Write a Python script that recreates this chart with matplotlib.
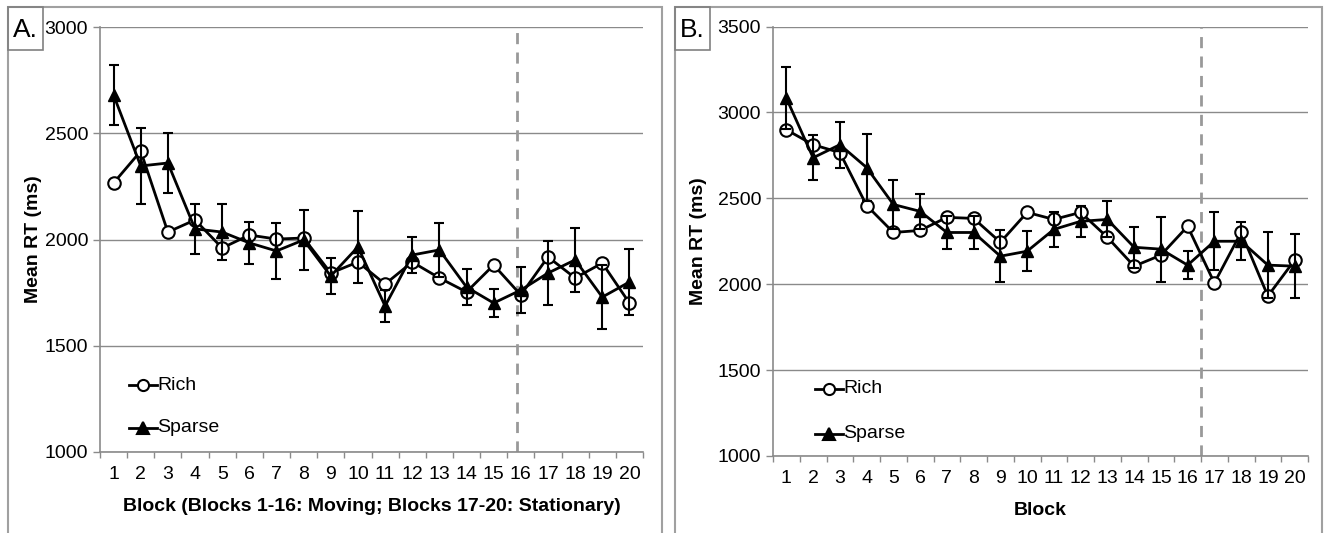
import numpy as np
import matplotlib
matplotlib.use("Agg")
import matplotlib.pyplot as plt
from matplotlib.patches import Rectangle

plt.rcParams['font.family'] = ['Liberation Sans', 'DejaVu Sans']

W, H = 1325, 533

blocks = list(range(1, 21))

# Panel A (blocks 1-16 moving, 17-20 stationary)
rich_a = [2266, 2416, 2035, 2092, 1960, 2021, 2002, 2007, 1842, 1894,
          1790, 1894, 1819, 1753, 1880, 1739, 1918, 1819, 1889, 1701]
sparse_a = [2680, 2346, 2360, 2050, 2035, 1984, 1946, 1998, 1828, 1965,
            1687, 1927, 1951, 1776, 1701, 1762, 1842, 1904, 1729, 1800]
sparse_a_err = [140, 180, 140, 118, 130, 100, 130, 140, 85, 170,
                75, 85, 127, 85, 66, 110, 150, 150, 150, 155]

# Panel B
rich_b = [2899, 2812, 2766, 2458, 2301, 2313, 2389, 2383, 2244, 2418,
          2377, 2418, 2273, 2105, 2169, 2337, 2007, 2302, 1931, 2140]
sparse_b = [3083, 2736, 2812, 2679, 2464, 2424, 2301, 2301, 2163, 2192,
            2319, 2366, 2377, 2215, 2204, 2111, 2250, 2250, 2111, 2105]
sparse_b_err = [180, 130, 134, 197, 140, 100, 95, 95, 150, 115,
                100, 90, 105, 120, 190, 80, 170, 110, 190, 185]

GRAY = "#8a8a8a"


def px(x0, y0, x1, y1):
    # pixel box (top-left origin) -> figure rect
    return [x0 / W, 1 - y1 / H, (x1 - x0) / W, (y1 - y0) / H]


def draw_panel(ax, rich, sparse, err, ylim, ystep, xlabel, dash_x, leg_x, leg_y,
               ylab_pad):
    ax.plot(blocks, rich, "-o", color="black", lw=2, ms=9,
            mfc="white", mec="black", mew=1.5, zorder=3)
    ax.errorbar(blocks, sparse, yerr=err, fmt="-^", color="black", lw=2,
                ms=9, elinewidth=1.5, capsize=3.5, capthick=1.5, zorder=4)
    ax.axvline(dash_x, color="#999999", ls=(0, (4, 3)), lw=2, zorder=2)

    ax.set_xlim(0.5, 20.5)
    ax.set_ylim(*ylim)
    ax.set_yticks(np.arange(ylim[0], ylim[1] + 1, ystep))
    ax.set_xticks(blocks)
    ax.set_xticks(np.arange(0.5, 21, 1), minor=True)
    ax.tick_params(axis="x", which="major", length=0, labelsize=14, pad=10)
    ax.tick_params(axis="x", which="minor", length=4, color=GRAY, width=1)
    ax.tick_params(axis="y", length=5, color=GRAY, width=1, labelsize=14)
    ax.grid(axis="y", color=GRAY, lw=1)
    ax.set_axisbelow(True)
    for s in ("top", "right"):
        ax.spines[s].set_visible(False)
    for s in ("left", "bottom"):
        ax.spines[s].set_color(GRAY)
        ax.spines[s].set_linewidth(1.2)
    ax.set_ylabel("Mean RT (ms)", fontsize=14, fontweight="bold", labelpad=ylab_pad)
    ax.set_xlabel(xlabel, fontsize=14, fontweight="bold", labelpad=11)

    # legend drawn as small line+marker samples
    for lab, mk, face, y in (("Rich", "o", "white", leg_y[0]),
                             ("Sparse", "^", "black", leg_y[1])):
        ax.plot([leg_x, leg_x + 1.03], [y, y], color="black", lw=2, zorder=5)
        ax.plot([leg_x + 0.52], [y], marker=mk, ms=8, mfc=face,
                mec="black", mew=1.5, zorder=6)
        ax.text(leg_x + 1.05, y, lab, fontsize=14, va="center", ha="left")


fig = plt.figure(figsize=(W / 100, H / 100), dpi=100)

# panel frames
fig.patches.append(Rectangle((8 / W, -0.02), 654 / W, 1 - 7 / H + 0.02,
                             transform=fig.transFigure, fill=False,
                             ec="#a0a0a0", lw=1.5))
fig.patches.append(Rectangle((675 / W, -0.02), 647 / W, 1 - 7 / H + 0.02,
                             transform=fig.transFigure, fill=False,
                             ec="#a0a0a0", lw=1.5))
for x0, lab in ((8, "A."), (675, "B.")):
    r = px(x0, 7, x0 + 35, 50)
    fig.patches.append(Rectangle((r[0], r[1]), r[2], r[3],
                                 transform=fig.transFigure, fill=False,
                                 ec="#808080", lw=1.2))
    fig.text((x0 + 17.5) / W, 1 - 30 / H, lab, fontsize=19,
             ha="center", va="center")

ax_a = fig.add_axes(px(100, 27, 643, 452))
draw_panel(ax_a, rich_a, sparse_a, sparse_a_err, (1000, 3000), 500,
           "Block (Blocks 1-16: Moving; Blocks 17-20: Stationary)",
           15.85, 1.57, (1315, 1113), 2)

ax_b = fig.add_axes(px(773, 26.5, 1308, 456))
draw_panel(ax_b, rich_b, sparse_b, sparse_b_err, (1000, 3500), 500,
           "Block", 16.5, 2.07, (1390, 1129), 8)

fig.savefig("out.png", dpi=100)
